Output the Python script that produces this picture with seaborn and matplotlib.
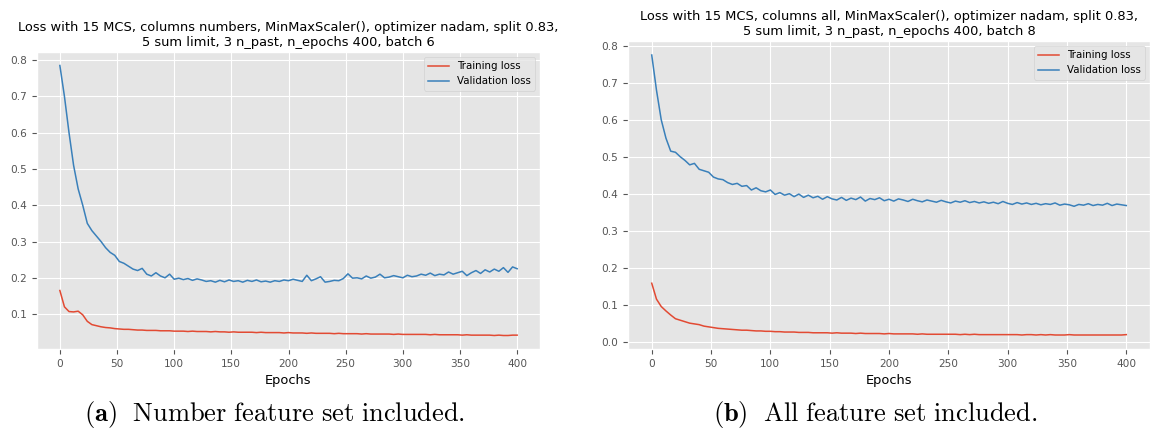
import matplotlib
matplotlib.use("Agg")
import matplotlib.pyplot as plt
import seaborn as sns
import pandas as pd

plt.style.use("ggplot")
plt.rcParams["mathtext.fontset"] = "cm"

# ---- data (sampled every 4 epochs) ----
epochs = list(range(0, 401, 4))

a_val = [0.785, 0.700, 0.600, 0.510, 0.445, 0.400, 0.350, 0.330, 0.315, 0.300,
         0.283, 0.270, 0.262, 0.245, 0.240, 0.232, 0.224, 0.220, 0.226, 0.210,
         0.205, 0.214, 0.205, 0.200, 0.210, 0.196, 0.199, 0.195, 0.198, 0.193,
         0.197, 0.194, 0.190, 0.192, 0.188, 0.193, 0.189, 0.194, 0.190, 0.192,
         0.188, 0.193, 0.190, 0.194, 0.189, 0.191, 0.188, 0.192, 0.190, 0.194,
         0.192, 0.196, 0.193, 0.190, 0.207, 0.192, 0.197, 0.203, 0.188, 0.190,
         0.193, 0.192, 0.198, 0.211, 0.199, 0.200, 0.197, 0.205, 0.199, 0.202,
         0.210, 0.200, 0.202, 0.206, 0.203, 0.200, 0.207, 0.203, 0.205, 0.210,
         0.207, 0.213, 0.206, 0.210, 0.208, 0.216, 0.210, 0.214, 0.218, 0.206,
         0.214, 0.220, 0.212, 0.222, 0.216, 0.224, 0.218, 0.228, 0.215, 0.230,
         0.225]

a_train = [0.165, 0.120, 0.107, 0.106, 0.108, 0.098, 0.080, 0.071, 0.068, 0.065,
           0.063, 0.062, 0.060, 0.059, 0.058, 0.058, 0.057, 0.056, 0.056, 0.055,
           0.055, 0.055, 0.054, 0.054, 0.054, 0.053, 0.053, 0.053, 0.052, 0.053,
           0.052, 0.052, 0.052, 0.051, 0.052, 0.051, 0.051, 0.050, 0.051, 0.050,
           0.050, 0.050, 0.050, 0.049, 0.050, 0.049, 0.049, 0.049, 0.049, 0.048,
           0.049, 0.048, 0.048, 0.048, 0.047, 0.048, 0.047, 0.047, 0.047, 0.047,
           0.046, 0.047, 0.046, 0.046, 0.046, 0.046, 0.045, 0.046, 0.045, 0.045,
           0.045, 0.045, 0.045, 0.044, 0.045, 0.044, 0.044, 0.044, 0.044, 0.044,
           0.044, 0.043, 0.044, 0.043, 0.043, 0.043, 0.043, 0.043, 0.042, 0.043,
           0.042, 0.042, 0.042, 0.042, 0.042, 0.041, 0.042, 0.041, 0.041, 0.042,
           0.042]

b_val = [0.775, 0.680, 0.600, 0.550, 0.515, 0.512, 0.500, 0.490, 0.478, 0.482,
         0.466, 0.462, 0.458, 0.445, 0.440, 0.438, 0.430, 0.425, 0.428, 0.420,
         0.422, 0.410, 0.416, 0.408, 0.405, 0.410, 0.398, 0.403, 0.396, 0.400,
         0.392, 0.399, 0.390, 0.396, 0.389, 0.393, 0.385, 0.392, 0.386, 0.383,
         0.390, 0.382, 0.388, 0.384, 0.391, 0.380, 0.387, 0.384, 0.389, 0.381,
         0.385, 0.380, 0.386, 0.383, 0.379, 0.385, 0.381, 0.378, 0.383, 0.380,
         0.377, 0.382, 0.378, 0.375, 0.380, 0.377, 0.381, 0.376, 0.379, 0.375,
         0.378, 0.374, 0.377, 0.373, 0.379, 0.374, 0.371, 0.376, 0.372, 0.375,
         0.371, 0.374, 0.370, 0.373, 0.371, 0.375, 0.369, 0.372, 0.370, 0.366,
         0.371, 0.369, 0.373, 0.368, 0.371, 0.369, 0.374, 0.368, 0.372, 0.370,
         0.368]

b_train = [0.158, 0.115, 0.095, 0.083, 0.072, 0.062, 0.058, 0.054, 0.050, 0.048,
           0.046, 0.042, 0.040, 0.038, 0.036, 0.035, 0.034, 0.033, 0.032, 0.031,
           0.031, 0.030, 0.029, 0.029, 0.028, 0.028, 0.027, 0.027, 0.026, 0.026,
           0.026, 0.025, 0.025, 0.025, 0.024, 0.024, 0.024, 0.024, 0.023, 0.024,
           0.023, 0.023, 0.023, 0.022, 0.023, 0.022, 0.022, 0.022, 0.022, 0.021,
           0.022, 0.021, 0.021, 0.021, 0.021, 0.021, 0.020, 0.021, 0.020, 0.020,
           0.020, 0.020, 0.020, 0.020, 0.020, 0.019, 0.020, 0.019, 0.020, 0.019,
           0.019, 0.019, 0.019, 0.019, 0.019, 0.019, 0.019, 0.019, 0.018, 0.019,
           0.019, 0.018, 0.019, 0.018, 0.019, 0.018, 0.018, 0.018, 0.019, 0.018,
           0.018, 0.018, 0.018, 0.018, 0.018, 0.018, 0.018, 0.018, 0.018, 0.018,
           0.019]

series_names = ["Training loss", "Validation loss"]
titles = [
    "Loss with 15 MCS, columns numbers, MinMaxScaler(), optimizer nadam, split 0.83,\n"
    "5 sum limit, 3 n_past, n_epochs 400, batch 6",
    "Loss with 15 MCS, columns all, MinMaxScaler(), optimizer nadam, split 0.83,\n"
    "5 sum limit, 3 n_past, n_epochs 400, batch 8",
]
captions = [
    r"$\mathbf{(a)}\ \ \mathrm{Number\ feature\ set\ included.}$",
    r"$\mathbf{(b)}\ \ \mathrm{All\ feature\ set\ included.}$",
]
xticks = [0, 50, 100, 150, 200, 250, 300, 350, 400]
colors = ["#E24A33", "#3A80BA"]

W, H = 1153, 437
fig = plt.figure(figsize=(W / 100, H / 100), dpi=100)
fig.patch.set_facecolor("white")

boxes = [
    (37, 349, 503, 297),
    (628, 349, 522, 308),
]

for i, (train, val) in enumerate([(a_train, a_val), (b_train, b_val)]):
    x0, ybot, w, h = boxes[i]
    ax = fig.add_axes([x0 / W, (H - ybot) / H, w / W, h / H])
    df = pd.DataFrame({
        "Epochs": epochs * 2,
        "loss": train + val,
        "series": [series_names[0]] * len(epochs) + [series_names[1]] * len(epochs),
    })
    sns.lineplot(data=df, x="Epochs", y="loss", hue="series", palette=colors,
                 ax=ax, linewidth=1.1)
    ax.set_title(titles[i], fontsize=9.4, color="black", pad=4)
    ax.set_xlabel("Epochs", fontsize=9.4, color="black")
    ax.set_ylabel("")
    ax.set_xticks(xticks)
    ax.tick_params(labelsize=7.6, colors="#555555")
    leg = ax.legend(loc="upper right", fontsize=7.4, handlelength=2.0)
    leg.get_frame().set_facecolor("#E5E5E5")
    leg.get_frame().set_edgecolor("#CCCCCC")

fig.text(275 / W, 1 - 415 / H, captions[0], ha="center", va="center", fontsize=19)
fig.text(875 / W, 1 - 415 / H, captions[1], ha="center", va="center", fontsize=19)

fig.savefig("out.png", dpi=100)
